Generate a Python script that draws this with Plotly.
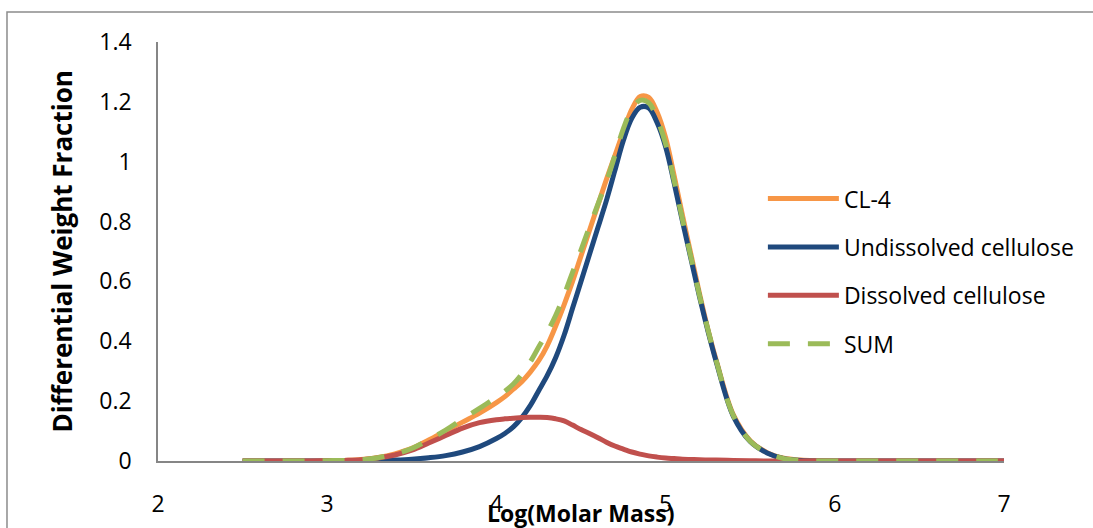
import plotly.graph_objects as go

log_m = [2.5, 2.6, 2.7, 2.8, 2.9, 3.0, 3.1, 3.2, 3.3, 3.4, 3.5, 3.6, 3.7, 3.8, 3.9,
         4.0, 4.05, 4.1, 4.15, 4.2, 4.25, 4.3, 4.35, 4.4, 4.45, 4.5, 4.55, 4.6, 4.65,
         4.7, 4.75, 4.8, 4.85, 4.9, 4.95, 5.0, 5.05, 5.1, 5.15, 5.2, 5.25, 5.3,
         5.4, 5.5, 5.6, 5.7, 5.8, 5.9, 6.0, 6.1, 6.2, 6.3, 6.4, 6.5, 6.6, 6.7, 6.8, 6.9, 7.0]

cl4 = [0, 0, 0, 0, 0, 0, 0.002, 0.005, 0.012, 0.024, 0.042, 0.07, 0.10, 0.13, 0.16,
       0.195, 0.215, 0.24, 0.265, 0.297, 0.335, 0.385, 0.45, 0.522, 0.60, 0.685, 0.77, 0.855, 0.94,
       1.02, 1.10, 1.175, 1.218, 1.215, 1.165, 1.08, 0.955, 0.82, 0.69, 0.56, 0.44, 0.335,
       0.155, 0.068, 0.028, 0.009, 0.003, 0.001, 0, 0, 0, 0, 0, 0, 0, 0, 0, 0, 0]

undissolved = [0, 0, 0, 0, 0, 0, 0, 0, 0.001, 0.003, 0.006, 0.011, 0.018, 0.030, 0.048,
               0.075, 0.092, 0.114, 0.145, 0.185, 0.235, 0.285, 0.345, 0.42, 0.51, 0.60, 0.69, 0.78, 0.87,
               0.97, 1.07, 1.145, 1.182, 1.18, 1.13, 1.05, 0.93, 0.80, 0.675, 0.55, 0.435, 0.33,
               0.15, 0.065, 0.027, 0.008, 0.002, 0, 0, 0, 0, 0, 0, 0, 0, 0, 0, 0, 0]

dissolved = [0, 0, 0, 0, 0, 0.001, 0.002, 0.004, 0.010, 0.020, 0.036, 0.060, 0.085, 0.110, 0.128,
             0.138, 0.141, 0.143, 0.145, 0.146, 0.146, 0.145, 0.141, 0.134, 0.12, 0.105, 0.092, 0.078, 0.063,
             0.050, 0.040, 0.030, 0.023, 0.017, 0.013, 0.010, 0.008, 0.006, 0.005, 0.004, 0.0035, 0.003,
             0.002, 0.001, 0, 0, 0, 0, 0, 0, 0, 0, 0, 0, 0, 0, 0, 0, 0]

total = [0, 0, 0, 0, 0, 0.001, 0.002, 0.004, 0.011, 0.023, 0.042, 0.071, 0.103, 0.140, 0.176,
         0.213, 0.233, 0.257, 0.29, 0.331, 0.381, 0.43, 0.486, 0.554, 0.63, 0.705, 0.782, 0.858, 0.933,
         1.02, 1.11, 1.175, 1.205, 1.197, 1.143, 1.06, 0.938, 0.806, 0.68, 0.554, 0.439, 0.333,
         0.152, 0.066, 0.027, 0.008, 0.002, 0, 0, 0, 0, 0, 0, 0, 0, 0, 0, 0, 0]

x_ticks = [2, 3, 4, 5, 6, 7]
y_ticks = [0, 0.2, 0.4, 0.6, 0.8, 1, 1.2, 1.4]
y_tick_text = ["0", "0.2", "0.4", "0.6", "0.8", "1", "1.2", "1.4"]

series = [
    ("CL-4", cl4, "#F79646", "solid"),
    ("Undissolved cellulose", undissolved, "#1F497D", "solid"),
    ("Dissolved cellulose", dissolved, "#C0504D", "solid"),
    ("SUM", total, "#9BBB59", "22px,18px"),
]

FONT = "Open Sans"
fig = go.Figure()
for i, (name, vals, color, dash) in enumerate(series):
    fig.add_trace(go.Scatter(
        x=log_m, y=vals, name=name, mode="lines",
        line=dict(color=color, width=5, dash=dash, shape="spline", smoothing=1.0),
        legendgroup=f"g{i}",
    ))

axis_col = "#868686"
fig.update_layout(
    width=1093, height=528,
    margin=dict(l=158, r=89, t=42, b=67),
    paper_bgcolor="white", plot_bgcolor="white",
    font=dict(family=FONT, size=23, color="black"),
    showlegend=True,
    legend=dict(
        x=0.715, xanchor="left", y=0.452, yanchor="middle",
        font=dict(family=FONT, size=23, color="black"),
        tracegroupgap=15.5, bgcolor="rgba(0,0,0,0)",
        traceorder="grouped", itemwidth=71,
    ),
    xaxis=dict(
        range=[2, 7], tickvals=x_ticks, showgrid=False, zeroline=False,
        showline=True, linecolor=axis_col, linewidth=1.5, automargin=False,
        ticks="outside", ticklen=22, tickcolor="rgba(0,0,0,0)",
        tickfont=dict(family=FONT, size=23),
    ),
    yaxis=dict(
        range=[0, 1.4], tickvals=y_ticks, ticktext=y_tick_text, showgrid=False,
        zeroline=False, showline=True, linecolor=axis_col, linewidth=1.5, automargin=False,
        ticks="outside", ticklen=20, tickcolor="rgba(0,0,0,0)",
        tickfont=dict(family=FONT, size=23),
    ),
    shapes=[dict(type="rect", xref="paper", yref="paper",
                 x0=-0.1785, x1=1.3, y0=-0.6, y1=1.0716,
                 line=dict(color="#8C8C8C", width=1.5), fillcolor="rgba(0,0,0,0)",
                 layer="below")],
    annotations=[
        dict(text="<b>Log(Molar Mass)</b>", xref="paper", yref="paper",
             x=0.5, y=-0.124, xanchor="center", yanchor="middle", showarrow=False,
             font=dict(family=FONT, size=23, color="black")),
        dict(text="<b>Differential Weight Fraction</b>", xref="paper", yref="paper",
             x=-0.1135, y=0.50, xanchor="center", yanchor="middle", showarrow=False,
             textangle=-90, font=dict(family=FONT, size=26, color="black")),
    ],
)

fig.write_html("out.html")
